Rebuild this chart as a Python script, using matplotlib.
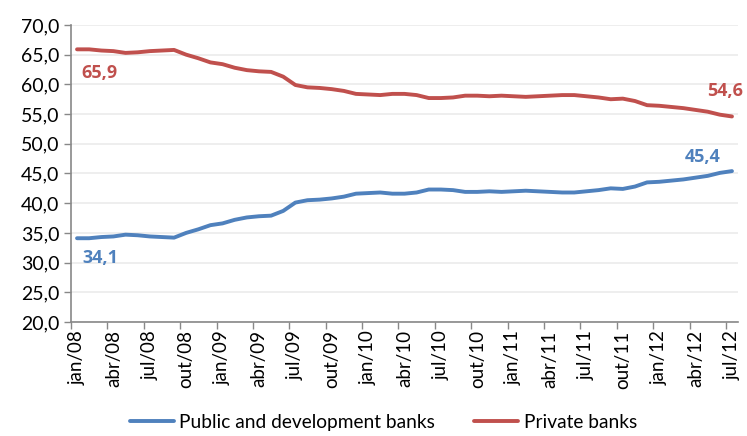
import matplotlib
matplotlib.use("Agg")
import matplotlib.pyplot as plt
from matplotlib.ticker import FuncFormatter, FixedLocator

# monthly share (%) jan/08 .. jul/12
months = ["jan", "fev", "mar", "abr", "mai", "jun", "jul", "ago", "set", "out", "nov", "dez"]
labels = [f"{m}/{y:02d}" for y in range(8, 13) for m in months][:55]

public = [34.1, 34.1, 34.3, 34.4, 34.7, 34.6, 34.4, 34.3, 34.2, 35.0, 35.6, 36.3,
          36.6, 37.2, 37.6, 37.8, 37.9, 38.7, 40.1, 40.5, 40.6, 40.8, 41.1, 41.6,
          41.7, 41.8, 41.6, 41.6, 41.8, 42.3, 42.3, 42.2, 41.9, 41.9, 42.0, 41.9,
          42.0, 42.1, 42.0, 41.9, 41.8, 41.8, 42.0, 42.2, 42.5, 42.4, 42.8, 43.5,
          43.6, 43.8, 44.0, 44.3, 44.6, 45.1, 45.4]
private = [65.9, 65.9, 65.7, 65.6, 65.3, 65.4, 65.6, 65.7, 65.8, 65.0, 64.4, 63.7,
           63.4, 62.8, 62.4, 62.2, 62.1, 61.3, 59.9, 59.5, 59.4, 59.2, 58.9, 58.4,
           58.3, 58.2, 58.4, 58.4, 58.2, 57.7, 57.7, 57.8, 58.1, 58.1, 58.0, 58.1,
           58.0, 57.9, 58.0, 58.1, 58.2, 58.2, 58.0, 57.8, 57.5, 57.6, 57.2, 56.5,
           56.4, 56.2, 56.0, 55.7, 55.4, 54.9, 54.6]

BLUE = "#4F81BD"
RED = "#C0504D"

plt.rcParams["font.family"] = ["Lato", "DejaVu Sans"]

fig = plt.figure(figsize=(7.47, 4.36), dpi=100)
ax = fig.add_axes([0.095, 0.2615, 0.893, 0.6812])

x = list(range(len(labels)))
ax.plot(x, public, color=BLUE, lw=2.8, label="Public and development banks", solid_capstyle="round")
ax.plot(x, private, color=RED, lw=2.8, label="Private banks", solid_capstyle="round")

ax.set_xlim(-0.5, len(labels) - 0.5)
ax.set_ylim(20, 70)
ax.set_yticks(range(20, 71, 5))
ax.yaxis.set_major_formatter(FuncFormatter(lambda v, p: f"{v:.1f}".replace(".", ",")))
ax.grid(axis="y", color="#ebebeb", lw=1.2)
ax.set_axisbelow(True)

# labels every 3 months, tick marks between categories
ax.set_xticks(x[::3])
ax.set_xticklabels(labels[::3], rotation=90, fontsize=13.5)
ax.tick_params(axis="x", which="major", length=0, pad=6)
ax.xaxis.set_minor_locator(FixedLocator([i - 0.5 for i in x[::3]]))
ax.tick_params(axis="x", which="minor", length=5, color="#888888", width=1)
ax.tick_params(axis="y", labelsize=14, length=5, color="#888888", width=1)

for s in ["top", "right"]:
    ax.spines[s].set_visible(False)
for s in ["left", "bottom"]:
    ax.spines[s].set_color("#888888")
    ax.spines[s].set_linewidth(1.2)

def tag(i, vals, color, dx, dy):
    ax.annotate(f"{vals[i]:.1f}".replace(".", ","), xy=(x[i], vals[i]),
                xytext=(dx, dy), textcoords="offset pixels", ha="center", va="center",
                color=color, fontsize=13, fontweight="bold", family="Open Sans",
                annotation_clip=False)

tag(0, private, RED, 22, -24)
tag(0, public, BLUE, 23, -20)
tag(-1, private, RED, -7, 25)
tag(-1, public, BLUE, -29, 14)

fig.legend(loc="lower center", bbox_to_anchor=(0.513, -0.028), ncol=2, frameon=False,
           fontsize=13.8, handlelength=2.3, columnspacing=2.0, handletextpad=0.3)

fig.savefig("out.png", dpi=100)
